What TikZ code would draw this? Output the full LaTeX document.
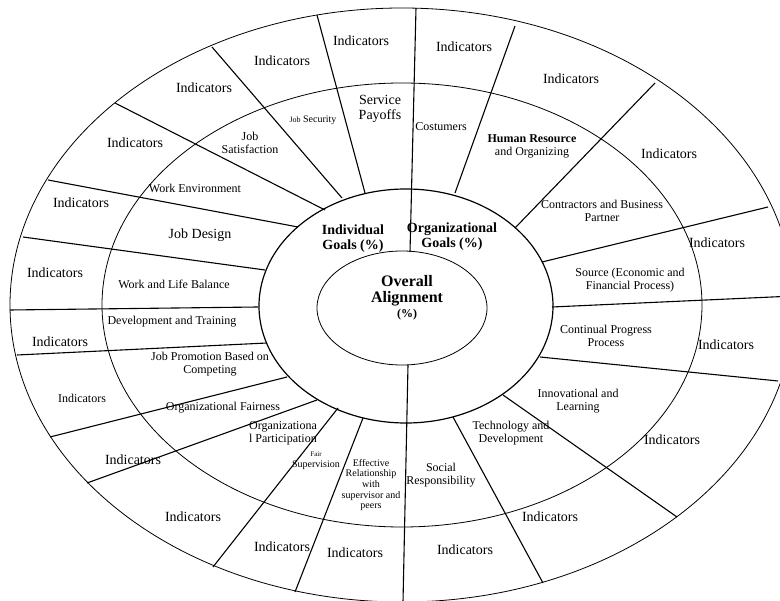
\documentclass[tikz,border=0pt]{standalone}
\usepackage{fontspec}
\setmainfont{Liberation Serif}
\usetikzlibrary{positioning}

\begin{document}
\begin{tikzpicture}[x=1pt, y=-1pt, line width=0.8pt,
                    every node/.style={align=center, inner sep=1pt},
                    ind/.style={font=\fontsize{14}{15}\selectfont},
                    lab/.style={font=\fontsize{12}{13}\selectfont},
                    small/.style={font=\fontsize{10}{10.7}\selectfont},
                    goal/.style={font=\bfseries\fontsize{14}{15}\selectfont},
                    spoke/.style={line width=1.1pt}]
                    \useasboundingbox (0,0) rectangle (780,601);
                    \clip (0,0) rectangle (780,601);
                    \coordinate (c) at (402,305);
                    \coordinate (cg) at (406,306);
                    \coordinate (ca) at (402,308);
                    % rings
                    \draw (c) ellipse [x radius=392pt, y radius=297pt];
                    \draw (c) ellipse [x radius=300pt, y radius=222pt];
                    \draw[line width=1.2pt] (cg) ellipse [x radius=147pt, y radius=117pt];
                    \draw (ca) ellipse [x radius=85pt, y radius=57pt];
                    % spokes
                    \draw[spoke] (410,252) -- (416,8);
                    \draw[spoke] (408,365) -- (403,602);
                    \draw[spoke] (365,193) -- (317,15);
                    \draw[spoke] (342,198) -- (212,47);
                    \draw[spoke] (325,210) -- (115,103);
                    \draw[spoke] (298,227) -- (48,180);
                    \draw[spoke] (265,270) -- (23,237);
                    \draw[spoke] (258,307) -- (10,310);
                    \draw[spoke] (267,343) -- (17,355);
                    \draw[spoke] (287,377) -- (50,437);
                    \draw[spoke] (317,400) -- (87,483);
                    \draw[spoke] (338,408) -- (213,567);
                    \draw[spoke] (363,418) -- (295,592);
                    \draw[spoke] (455,193) -- (515,26);
                    \draw[spoke] (515,228) -- (655,83);
                    \draw[spoke] (542,262) -- (768,207);
                    \draw[spoke] (552,307) -- (794,296);
                    \draw[spoke] (540,357) -- (778,381);
                    \draw[spoke] (503,395) -- (677,517);
                    \draw[spoke] (453,417) -- (543,583);
                    % centre
                    \node[font=\bfseries\fontsize{16}{16}\selectfont] (overall) at (407,291) {Overall\\Alignment};
                    \node[font=\bfseries\fontsize{12}{12}\selectfont, below=0pt of overall] (pct) {(\%)};
                    \node[goal] (indiv) at (353,239) {Individual\\Goals (\%)};
                    \node[goal] (organ) at (452,237) {Organizational\\Goals (\%)};
                    % individual goals
                    \node[ind] (serv) at (380,109) {Service\\Payoffs};
                    \node[small] (jobsec) at (313,120) {{\fontsize{8}{8}\selectfont Job} Security};
                    \node[lab] (jobsat) at (250,143) {Job\\Satisfaction};
                    \node[lab] (workenv) at (195,188) {Work Environment};
                    \node[ind] (jobdes) at (200,235) {Job Design};
                    \node[lab] (worklife) at (174,284) {Work and Life Balance};
                    \node[lab] (devtrain) at (172,322) {Development and Training};
                    \node[lab] (jobprom) at (210,364) {Job Promotion Based on\\Competing};
                    \node[lab] (fair) at (223,408) {Organizational Fairness};
                    \node[lab] (partic) at (283,433) {Organizationa\\l Participation};
                    \node[small] (supv) at (316,461) {{\fontsize{7}{8}\selectfont Fair}\\Supervision};
                    \node[small] (relat) at (371,485) {Effective\\Relationship\\with\\supervisor and\\peers};
                    % organizational goals
                    \node[lab] (social) at (441,475) {Social\\Responsibility};
                    \node[lab] (techdev) at (511,433) {Technology and\\Development};
                    \node[lab] (innov) at (578,401) {Innovational and\\Learning};
                    \node[lab] (contin) at (606,336) {Continual Progress\\Process};
                    \node[lab] (source) at (630,280) {Source (Economic and\\Financial Process)};
                    \node[lab] (contr) at (602,211) {Contractors and Business\\Partner};
                    \node[lab] (human) at (532,146) {\textbf{Human Resource}\\and Organizing};
                    \node[lab] (cost) at (441,127) {Costumers};
                    % indicators
                    \node[ind] (i1) at (361,41) {Indicators};
                    \node[ind] (i2) at (282,61) {Indicators};
                    \node[ind] (i3) at (204,88) {Indicators};
                    \node[ind] (i4) at (135,143) {Indicators};
                    \node[ind] (i5) at (81,203) {Indicators};
                    \node[ind] (i6) at (55,273) {Indicators};
                    \node[ind] (i7) at (60,342) {Indicators};
                    \node[lab] (i8) at (82,398) {Indicators};
                    \node[ind] (i9) at (133,460) {Indicators};
                    \node[ind] (i10) at (193,517) {Indicators};
                    \node[ind] (i11) at (282,547) {Indicators};
                    \node[ind] (i12) at (355,553) {Indicators};
                    \node[ind] (i13) at (465,550) {Indicators};
                    \node[ind] (i14) at (550,517) {Indicators};
                    \node[ind] (i15) at (672,440) {Indicators};
                    \node[ind] (i16) at (726,345) {Indicators};
                    \node[ind] (i17) at (717,243) {Indicators};
                    \node[ind] (i18) at (669,154) {Indicators};
                    \node[ind] (i19) at (571,79) {Indicators};
                    \node[ind] (i20) at (464,47) {Indicators};
                \end{tikzpicture}
\end{document}
